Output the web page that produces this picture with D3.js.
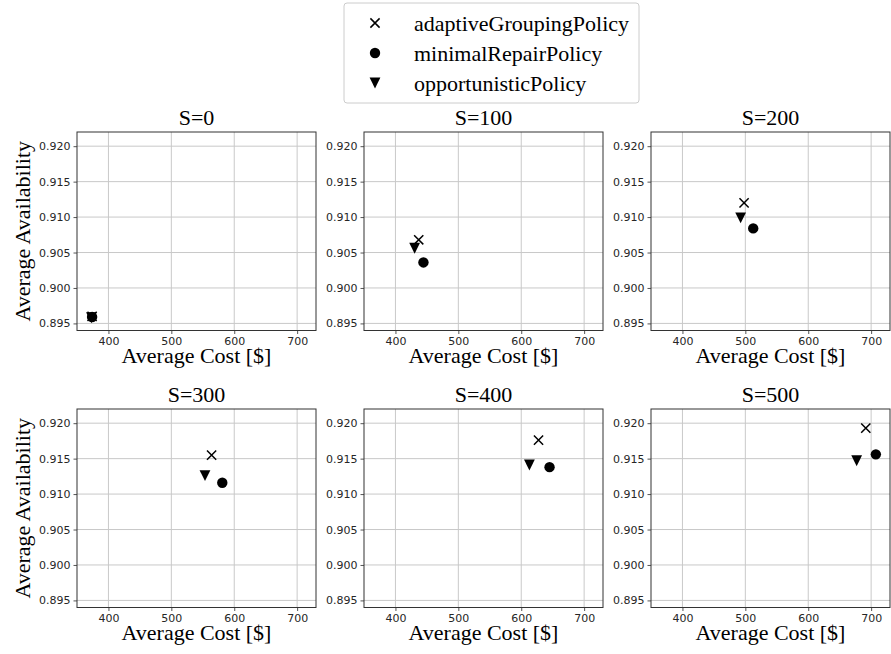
<!DOCTYPE html>
<html>
<head>
<meta charset="utf-8">
<script src="https://cdn.jsdelivr.net/npm/d3@7"></script>
<style>
  body { margin: 0; background: #fff; }
  svg { display: block; }
</style>
</head>
<body>
<script>
// values
var scenarios = ["S=0", "S=100", "S=200", "S=300", "S=400", "S=500"];
var policies = ["adaptiveGroupingPolicy", "minimalRepairPolicy", "opportunisticPolicy"];

var adaptiveCost  = [374, 437, 498, 564, 627.5, 691.5];
var adaptiveAvail = [0.8960, 0.9068, 0.9120, 0.9155, 0.9176, 0.9193];
var minimalCost   = [374, 444.5, 512.5, 581, 645, 707.5];
var minimalAvail  = [0.8959, 0.9036, 0.9084, 0.9116, 0.9138, 0.9156];
var opportCost    = [373, 430.5, 492.5, 553.5, 613, 677];
var opportAvail   = [0.8958, 0.9056, 0.9099, 0.9126, 0.9141, 0.9147];

var xTicks = [400, 500, 600, 700];
var yTicks = [0.895, 0.900, 0.905, 0.910, 0.915, 0.920];

var width = 891, height = 654;
var serif = "'Liberation Serif', 'Times New Roman', serif";
var sans = "'DejaVu Sans', sans-serif";

var svg = d3.select("body").append("svg")
    .attr("width", width)
    .attr("height", height);

// panel layout
var panelLefts = [77, 364, 651];
var panelTops = [132, 409];
var pw = 239, ph = 198.5;

var x = d3.scaleLinear().domain([350, 730]).range([0, pw]);
var y = d3.scaleLinear().domain([0.894, 0.922]).range([ph, 0]);

// marker shapes (centered on the point)
function markerPath(kind) {
    if (kind == 0) { // x
        var s = 4.6;
        return "M" + (-s) + "," + (-s) + "L" + s + "," + s + "M" + (-s) + "," + s + "L" + s + "," + (-s);
    }
    if (kind == 1) { // circle
        return d3.symbol().type(d3.symbolCircle).size(Math.PI * 5.2 * 5.2)();
    }
    var t = 5.4; // triangle down
    return "M" + (-t) + "," + (-t) + "L" + t + "," + (-t) + "L0," + t + "Z";
}
function styleMarker(sel, kind) {
    if (kind == 0) {
        sel.attr("fill", "none").attr("stroke", "#000").attr("stroke-width", 1.5);
    } else {
        sel.attr("fill", "#000").attr("stroke", "none");
    }
}

scenarios.forEach(function(name, i) {
    var col = i % 3, row = Math.floor(i / 3);
    var g = svg.append("g")
        .attr("transform", "translate(" + panelLefts[col] + "," + panelTops[row] + ")");

    // grid
    g.selectAll(".gx").data(xTicks).enter().append("line")
        .attr("x1", d => x(d)).attr("x2", d => x(d))
        .attr("y1", 0).attr("y2", ph)
        .attr("stroke", "#c9c9c9").attr("stroke-width", 1);
    g.selectAll(".gy").data(yTicks).enter().append("line")
        .attr("x1", 0).attr("x2", pw)
        .attr("y1", d => y(d)).attr("y2", d => y(d))
        .attr("stroke", "#c9c9c9").attr("stroke-width", 1);

    // axes
    var xAxis = g.append("g")
        .attr("transform", "translate(0," + ph + ")")
        .call(d3.axisBottom(x).tickValues(xTicks).tickSize(3.5).tickPadding(3).tickFormat(d3.format("d")));
    var yAxis = g.append("g")
        .call(d3.axisLeft(y).tickValues(yTicks).tickSize(3.5).tickPadding(3).tickFormat(d3.format(".3f")));
    [xAxis, yAxis].forEach(function(a) {
        a.select(".domain").remove();
        a.selectAll(".tick line").attr("stroke", "#555");
        a.selectAll(".tick text")
            .attr("font-family", sans)
            .attr("font-size", "11px")
            .attr("fill", "#262626");
    });

    // frame
    g.append("rect")
        .attr("width", pw).attr("height", ph)
        .attr("fill", "none")
        .attr("stroke", "#333").attr("stroke-width", 1);

    // points
    var pts = [
        [adaptiveCost[i], adaptiveAvail[i], 0],
        [minimalCost[i], minimalAvail[i], 1],
        [opportCost[i], opportAvail[i], 2]
    ];
    pts.forEach(function(p) {
        var m = g.append("path")
            .attr("d", markerPath(p[2]))
            .attr("transform", "translate(" + x(p[0]) + "," + y(p[1]) + ")");
        styleMarker(m, p[2]);
    });

    // title
    g.append("text")
        .attr("x", pw / 2).attr("y", -7.5)
        .attr("text-anchor", "middle")
        .attr("font-family", serif).attr("font-size", "22px")
        .text(name);

    // x label
    g.append("text")
        .attr("x", pw / 2).attr("y", ph + 32)
        .attr("text-anchor", "middle")
        .attr("font-family", serif).attr("font-size", "22px")
        .text("Average Cost [$]");

    // y label only on left column
    if (col == 0) {
        g.append("text")
            .attr("transform", "translate(" + (-47) + "," + (ph / 2) + ") rotate(-90)")
            .attr("text-anchor", "middle")
            .attr("font-family", serif).attr("font-size", "22px")
            .text("Average Availability");
    }
});

// legend
var legend = svg.append("g").attr("transform", "translate(344,3)");
legend.append("rect")
    .attr("width", 295).attr("height", 100)
    .attr("rx", 3).attr("ry", 3)
    .attr("fill", "#fff")
    .attr("stroke", "#cccccc").attr("stroke-width", 1);

var items = legend.selectAll(".item").data(policies).enter().append("g")
    .attr("transform", (d, i) => "translate(0," + (20 + i * 30) + ")");
items.each(function(d, i) {
    var m = d3.select(this).append("path")
        .attr("d", markerPath(i))
        .attr("transform", "translate(31,0)");
    styleMarker(m, i);
});
items.append("text")
    .attr("x", 70).attr("y", 7.5)
    .attr("font-family", serif).attr("font-size", "22px")
    .text(d => d);
</script>
</body>
</html>
